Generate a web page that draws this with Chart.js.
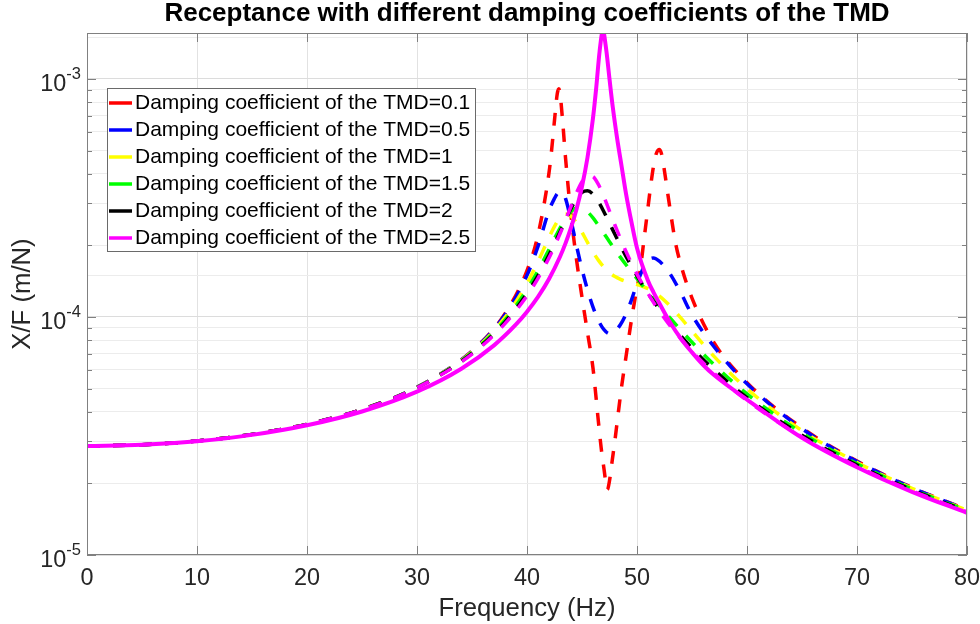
<!DOCTYPE html>
<html>
<head>
<meta charset="utf-8">
<title>Receptance with different damping coefficients of the TMD</title>
<script src="https://cdn.jsdelivr.net/npm/chart.js@4.4.1/dist/chart.umd.min.js"></script>
<style>
  html, body { margin: 0; padding: 0; background: #ffffff; }
  canvas { display: block; }
</style>
</head>
<body>
<canvas id="chart" width="980" height="624"></canvas>
<script>
// Receptance X/F (m/N) of the main structure against frequency (Hz).

// Main structure on its own (solid curve)
const freqNoTmd = [0, 5, 10, 15, 20, 25, 30, 34, 37, 39, 40, 41, 42, 43, 43.5, 44, 44.5, 45, 45.5, 46, 46.3, 46.6, 46.9, 47.2, 47.5, 47.8, 48.2, 48.6, 49, 49.5, 50, 51, 51.5, 52, 53, 54, 55, 56, 57, 60, 65, 70, 75, 80];
const receptanceNoTmd = [2.870e-5, 2.903e-5, 3.007e-5, 3.197e-5, 3.508e-5, 4.009e-5, 4.857e-5, 6.049e-5, 7.600e-5, 9.303e-5, 1.053e-4, 1.215e-4, 1.444e-4, 1.791e-4, 2.039e-4, 2.372e-4, 2.837e-4, 3.533e-4, 4.678e-4, 6.848e-4, 9.25e-4, 1.306e-3, 1.594e-3, 1.33e-3, 1.0e-3, 7.6e-4, 5.6e-4, 4.3e-4, 3.3e-4, 2.5e-4, 1.95e-4, 1.42e-4, 1.27e-4, 1.15e-4, 9.5e-5, 8.1e-5, 7.1e-5, 6.3e-5, 5.7e-5, 4.5e-5, 3.11e-5, 2.337e-5, 1.843e-5, 1.503e-5];

// TMD damping coefficient 0.1
const freqC01 = [0, 5, 10, 15, 20, 25, 30, 35, 38, 40, 41, 42, 42.25, 42.5, 42.75, 42.9, 43, 43.25, 43.5, 44, 44.5, 45, 45.5, 46, 46.5, 46.75, 47, 47.3, 47.5, 47.75, 48, 48.3, 48.6, 49, 49.4, 49.8, 50.3, 50.6, 50.9, 51.2, 51.5, 51.75, 52.05, 52.3, 52.5, 53, 53.5, 54, 55, 57, 60, 65, 70, 75, 80];
const receptanceC01 = [2.870e-5, 2.904e-5, 3.012e-5, 3.212e-5, 3.543e-5, 4.091e-5, 5.07e-5, 7.20e-5, 1.033e-4, 1.566e-4, 2.214e-4, 4.033e-4, 5.09e-4, 6.707e-4, 8.66e-4, 9.09e-4, 8.72e-4, 6.56e-4, 4.676e-4, 2.679e-4, 1.743e-4, 1.210e-4, 8.60e-5, 6.09e-5, 3.6e-5, 2.8e-5, 2.3e-5, 1.88e-5, 2.05e-5, 2.5e-5, 3.05e-5, 3.96e-5, 5.1e-5, 6.8e-5, 9.1e-5, 1.18e-4, 1.58e-4, 2.05e-4, 2.65e-4, 3.43e-4, 4.3e-4, 4.85e-4, 5.05e-4, 4.7e-4, 4.1e-4, 2.85e-4, 2.05e-4, 1.65e-4, 1.2e-4, 7.8e-5, 5.3e-5, 3.419e-5, 2.480e-5, 1.921e-5, 1.550e-5];

// TMD damping coefficient 0.5
const freqC05 = [0, 5, 10, 15, 20, 25, 30, 35, 38, 40, 41, 42, 42.5, 42.75, 43, 43.25, 43.5, 44, 44.5, 45, 45.5, 46, 46.5, 47, 47.5, 48, 48.5, 49, 49.5, 50, 50.5, 51, 51.5, 52, 52.5, 53, 54, 55, 57, 60, 65, 70, 75, 80];
const receptanceC05 = [2.870e-5, 2.904e-5, 3.012e-5, 3.212e-5, 3.543e-5, 4.091e-5, 5.07e-5, 7.18e-5, 1.021e-4, 1.496e-4, 1.979e-4, 2.80e-4, 3.15e-4, 3.30e-4, 3.36e-4, 3.33e-4, 3.15e-4, 2.547e-4, 1.993e-4, 1.587e-4, 1.300e-4, 1.101e-4, 9.66e-5, 8.84e-5, 8.5e-5, 8.7e-5, 9.3e-5, 1.03e-4, 1.18e-4, 1.38e-4, 1.58e-4, 1.73e-4, 1.77e-4, 1.72e-4, 1.63e-4, 1.52e-4, 1.26e-4, 1.02e-4, 7.5e-5, 5.24e-5, 3.392e-5, 2.470e-5, 1.917e-5, 1.548e-5];

// Shared frequency grid for damping coefficients 1, 1.5, 2 and 2.5
const freqCommon = [0, 5, 10, 15, 20, 25, 30, 35, 38, 40, 41, 42, 42.5, 43, 43.5, 44, 44.5, 45, 45.5, 46, 46.5, 47, 47.5, 48, 48.5, 49, 49.5, 50, 50.5, 51, 51.5, 52, 52.5, 53, 54, 55, 57, 60, 65, 70, 75, 80];
const receptanceC1 = [2.870e-5, 2.904e-5, 3.012e-5, 3.212e-5, 3.543e-5, 4.090e-5, 5.06e-5, 7.13e-5, 9.96e-5, 1.384e-4, 1.709e-4, 2.157e-4, 2.402e-4, 2.608e-4, 2.705e-4, 2.656e-4, 2.489e-4, 2.271e-4, 2.058e-4, 1.875e-4, 1.729e-4, 1.618e-4, 1.536e-4, 1.478e-4, 1.438e-4, 1.410e-4, 1.389e-4, 1.369e-4, 1.346e-4, 1.316e-4, 1.276e-4, 1.228e-4, 1.173e-4, 1.113e-4, 9.89e-5, 8.72e-5, 6.83e-5, 4.99e-5, 3.331e-5, 2.448e-5, 1.907e-5, 1.543e-5];
const receptanceC15 = [2.870e-5, 2.904e-5, 3.012e-5, 3.212e-5, 3.543e-5, 4.089e-5, 5.06e-5, 7.08e-5, 9.71e-5, 1.305e-4, 1.566e-4, 1.921e-4, 2.135e-4, 2.365e-4, 2.589e-4, 2.772e-4, 2.872e-4, 2.867e-4, 2.767e-4, 2.608e-4, 2.424e-4, 2.241e-4, 2.071e-4, 1.917e-4, 1.780e-4, 1.658e-4, 1.548e-4, 1.448e-4, 1.356e-4, 1.272e-4, 1.194e-4, 1.121e-4, 1.054e-4, 9.91e-5, 8.79e-5, 7.83e-5, 6.31e-5, 4.75e-5, 3.258e-5, 2.419e-5, 1.893e-5, 1.535e-5];
const receptanceC2 = [2.870e-5, 2.904e-5, 3.012e-5, 3.212e-5, 3.543e-5, 4.089e-5, 5.05e-5, 7.03e-5, 9.52e-5, 1.257e-4, 1.493e-4, 1.820e-4, 2.030e-4, 2.276e-4, 2.556e-4, 2.855e-4, 3.137e-4, 3.337e-4, 3.389e-4, 3.277e-4, 3.044e-4, 2.761e-4, 2.477e-4, 2.219e-4, 1.993e-4, 1.798e-4, 1.632e-4, 1.489e-4, 1.366e-4, 1.259e-4, 1.165e-4, 1.082e-4, 1.009e-4, 9.43e-5, 8.31e-5, 7.40e-5, 6.00e-5, 4.58e-5, 3.188e-5, 2.388e-5, 1.877e-5, 1.526e-5];
const receptanceC25 = [2.870e-5, 2.904e-5, 3.012e-5, 3.212e-5, 3.543e-5, 4.088e-5, 5.04e-5, 6.98e-5, 9.38e-5, 1.228e-4, 1.453e-4, 1.771e-4, 1.981e-4, 2.237e-4, 2.547e-4, 2.916e-4, 3.323e-4, 3.703e-4, 3.928e-4, 3.886e-4, 3.596e-4, 3.192e-4, 2.786e-4, 2.429e-4, 2.130e-4, 1.884e-4, 1.682e-4, 1.514e-4, 1.373e-4, 1.254e-4, 1.152e-4, 1.064e-4, 9.88e-5, 9.20e-5, 8.07e-5, 7.17e-5, 5.81e-5, 4.46e-5, 3.131e-5, 2.358e-5, 1.860e-5, 1.517e-5];

const dampingCoefficients = ['0.1', '0.5', '1', '1.5', '2', '2.5'];
const yTickExponents = [-5, -4, -3];
const xTickStep = 10;

const FONT = '"Liberation Sans", Arial, Helvetica, sans-serif';
const TEXT = '#262626';
const seriesColors = ['#ff0000', '#0000ff', '#ffff00', '#00ff00', '#000000', '#ff00ff'];

function points(freq, vals) {
  return freq.map((f, i) => ({ x: f, y: vals[i] }));
}

const dampedSeries = [
  [freqC01, receptanceC01],
  [freqC05, receptanceC05],
  [freqCommon, receptanceC1],
  [freqCommon, receptanceC15],
  [freqCommon, receptanceC2],
  [freqCommon, receptanceC25]
];

const datasets = dampedSeries.map(([f, v], i) => ({
  label: 'Damping coefficient of the TMD=' + dampingCoefficients[i],
  data: points(f, v),
  borderColor: seriesColors[i],
  backgroundColor: seriesColors[i],
  borderWidth: 3.5,
  borderDash: [13, 13],
  pointRadius: 0,
  cubicInterpolationMode: 'monotone',
  fill: false,
  order: dampedSeries.length - i
}));

datasets.push({
  label: 'Without TMD',
  data: points(freqNoTmd, receptanceNoTmd),
  borderColor: '#ff00ff',
  backgroundColor: '#ff00ff',
  borderWidth: 4,
  pointRadius: 0,
  cubicInterpolationMode: 'monotone',
  fill: false,
  order: 0
});

function isWholeTick(v) {
  const e = Math.floor(Math.log10(v) + 1e-9);
  const s = v / Math.pow(10, e);
  return Math.abs(s - Math.round(s)) < 1e-6 ? Math.round(s) : 0;
}

// Axes box, inward tick marks, decade labels, title and legend
const axesDecor = {
  id: 'axesDecor',
  afterDatasetsDraw(chart) {
    const { ctx, chartArea: a, scales: { x, y } } = chart;
    ctx.save();
    ctx.strokeStyle = '#808080';
    ctx.lineWidth = 1;
    ctx.setLineDash([]);
    ctx.beginPath();
    x.ticks.forEach(t => {
      const px = Math.round(x.getPixelForValue(t.value)) + 0.5;
      ctx.moveTo(px, a.bottom); ctx.lineTo(px, a.bottom - 9);
      ctx.moveTo(px, a.top); ctx.lineTo(px, a.top + 9);
    });
    y.ticks.forEach(t => {
      const s = isWholeTick(t.value);
      if (!s) return;
      const py = Math.round(y.getPixelForValue(t.value)) + 0.5;
      const len = s === 1 ? 9 : 5;
      ctx.moveTo(a.left, py); ctx.lineTo(a.left + len, py);
      ctx.moveTo(a.right, py); ctx.lineTo(a.right - len, py);
    });
    ctx.stroke();
    ctx.strokeRect(Math.round(a.left) + 0.5, Math.round(a.top) + 0.5,
                   Math.round(a.right - a.left) - 1, Math.round(a.bottom - a.top) - 1);
    ctx.restore();
  },
  afterDraw(chart) {
    const { ctx, chartArea: a, scales: { y } } = chart;
    ctx.save();

    // decade labels on the log axis
    ctx.fillStyle = TEXT;
    ctx.textBaseline = 'middle';
    ctx.textAlign = 'left';
    yTickExponents.forEach(e => {
      const py = y.getPixelForValue(Math.pow(10, e));
      const base = '10';
      const sup = String(e);
      ctx.font = `23.4px ${FONT}`;
      const wb = ctx.measureText(base).width;
      ctx.font = `16.5px ${FONT}`;
      const ws = ctx.measureText(sup).width;
      const right = a.left - 6;
      ctx.font = `23.4px ${FONT}`;
      ctx.fillText(base, right - ws - wb, py + 6);
      ctx.font = `16.5px ${FONT}`;
      ctx.fillText(sup, right - ws, py - 5);
    });

    // title
    ctx.fillStyle = '#000000';
    ctx.textAlign = 'center';
    ctx.font = `bold 26px ${FONT}`;
    ctx.fillText('Receptance with different damping coefficients of the TMD', (a.left + a.right) / 2, 14);

    // legend
    const items = chart.data.datasets.filter(d => d.borderDash);
    const lx = Math.round(a.left) + 20;
    const ly = Math.round(a.top) + 55;
    const lw = 368;
    const rowH = 27;
    const lh = items.length * rowH + 1;
    ctx.fillStyle = '#ffffff';
    ctx.fillRect(lx, ly, lw, lh);
    ctx.strokeStyle = '#6a6a6a';
    ctx.lineWidth = 1;
    ctx.strokeRect(lx + 0.5, ly + 0.5, lw, lh);
    ctx.textAlign = 'left';
    ctx.textBaseline = 'middle';
    ctx.font = `21px ${FONT}`;
    items.forEach((d, i) => {
      const cy = ly + 15 + rowH * i;
      ctx.strokeStyle = d.borderColor;
      ctx.lineWidth = 3.5;
      ctx.beginPath();
      ctx.moveTo(lx + 2, cy);
      ctx.lineTo(lx + 25, cy);
      ctx.stroke();
      ctx.fillStyle = '#000000';
      ctx.fillText(d.label, lx + 28, cy);
    });
    ctx.restore();
  }
};

new Chart(document.getElementById('chart'), {
  type: 'line',
  data: { datasets },
  options: {
    responsive: false,
    animation: false,
    devicePixelRatio: 1,
    events: [],
    layout: { padding: { top: 33, right: 13, bottom: 0, left: 0 }, autoPadding: false },
    plugins: {
      legend: { display: false },
      title: { display: false },
      tooltip: { enabled: false }
    },
    scales: {
      x: {
        type: 'linear',
        min: 0,
        max: 80,
        afterFit(scale) {
          scale.height = 69;
          scale.paddingLeft = 0;
          scale.paddingRight = 0;
        },
        ticks: { stepSize: xTickStep, color: TEXT, font: { family: FONT, size: 23.4 }, padding: 10, maxRotation: 0 },
        grid: { color: '#e2e2e2', drawTicks: false },
        border: { display: false },
        title: { display: true, text: 'Frequency (Hz)', color: TEXT, font: { family: FONT, size: 25.7 }, padding: { top: 0, bottom: 0 } }
      },
      y: {
        type: 'logarithmic',
        min: 1e-5,
        max: 1.56e-3,
        afterFit(scale) { scale.width = 87; },
        ticks: { display: false },
        grid: {
          color: c => (c.tick && isWholeTick(c.tick.value) === 1) ? '#dcdcdc' : '#ececec',
          drawTicks: false
        },
        border: { display: false },
        title: { display: true, text: 'X/F (m/N)', color: TEXT, font: { family: FONT, size: 25.7 }, padding: { top: 7, bottom: 0 } }
      }
    }
  },
  plugins: [axesDecor]
});
</script>
</body>
</html>
